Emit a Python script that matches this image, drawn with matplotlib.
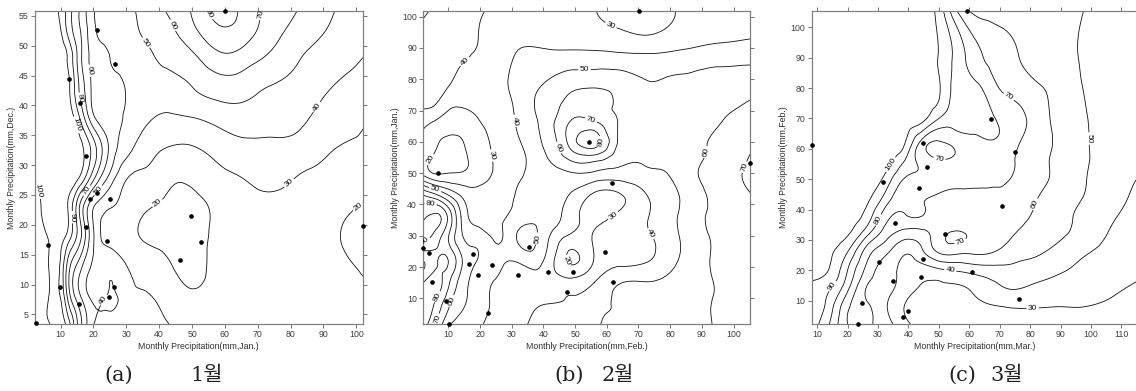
import numpy as np
import matplotlib
matplotlib.use("Agg")
import matplotlib.pyplot as plt
import matplotlib.tri as mtri

# ---------------- panel (a): Dec. vs Jan. ----------------
xa = [2.7, 6, 9, 12, 15, 18, 21, 25, 30, 36, 43, 50, 58, 66, 74, 82, 90, 96, 102]
ya = [3.4, 8, 13, 18, 23, 28, 33, 38, 43, 48, 52, 55.8]
za = [
    [93, 98, 105, 97, 71, 50, 38, 36, 35, 33, 30, 26, 24, 23, 22.5, 22, 21.5, 21, 20.5],
    [93, 98, 104, 80, 56, 42, 37, 41, 35, 31, 25, 21, 22, 23, 22.5, 22, 21.5, 21.5, 21],
    [94, 98.5, 104, 78, 58, 43.5, 37, 38, 30.5, 26, 21, 18, 22, 23.5, 23.5, 23, 21.5, 21, 19],
    [95, 100, 106, 97, 79, 56, 35, 27, 23, 19, 17, 16.5, 22.5, 25, 25.5, 24, 21.5, 19.7, 17],
    [97, 105, 110, 101, 77, 52, 37, 30.5, 26, 21, 18, 17.5, 22, 26, 27.5, 26, 24, 21.5, 19.5],
    [101, 110, 114, 110, 103, 87, 67, 47, 31, 27.6, 22.4, 22, 27, 30.5, 33, 29.8, 27.5, 26, 23.2],
    [106, 112, 114, 111, 106, 95, 79, 58, 44, 34.6, 29.8, 29.5, 34, 37.4, 38.1, 36.9, 31.8, 29.6, 28.5],
    [110, 114, 115, 107, 95, 74, 58, 53, 49, 42, 39, 40, 43.5, 45.5, 43.9, 42.6, 36.7, 33.8, 31],
    [114, 114, 110, 104, 84, 66, 54, 52, 49.5, 45, 44.6, 49.8, 55, 54, 49.5, 47, 41.7, 38.2, 35.6],
    [116, 113, 108, 100, 80, 62, 55, 50, 46, 47, 54, 58, 67, 65, 58, 51, 46, 43, 40],
    [117, 110, 106, 90, 75, 61, 50, 46, 46, 52, 58, 66, 77, 74, 64, 56, 50, 46, 43],
    [115, 108, 101, 87, 73, 59, 48, 45, 47, 54, 61, 71, 83, 77, 67, 60, 53, 48, 45],
]
sta_ax = [60, 21, 26.6, 12.4, 15.9, 17.7, 21.2, 25.1, 19, 17.7, 24.2, 49.8, 52.6, 46.4, 6.2, 9.7, 26.1, 24.6, 15.7, 2.6, 101.9]
sta_ay = [55.8, 52.7, 46.9, 44.4, 40.4, 31.5, 25.4, 24.4, 24.3, 19.7, 17.3, 21.4, 17.1, 14.1, 16.6, 9.6, 9.6, 8.0, 6.8, 3.5, 19.8]

# ---------------- panel (b): Jan. vs Feb. ----------------
xb = [2.1, 6, 10, 14, 19, 25, 32, 40, 48, 56, 64, 72, 80, 88, 96, 106]
yb = [1.8, 8, 15, 22, 29, 36, 43, 50, 55, 60, 66, 72, 78, 85, 92, 101.8]
zb = [
    [85, 70, 52, 46, 42, 37, 38, 43, 46, 49, 52, 54, 56, 58, 61, 62],
    [88, 78, 62, 52, 45, 38, 37, 40, 41, 47, 51, 54, 56, 58, 61, 61],
    [80, 85, 72, 56, 46, 39, 37, 38, 34, 40, 49.5, 50.5, 53, 57, 61, 62],
    [70, 78, 80, 62, 50, 43, 41, 40, 19, 30.5, 37, 39, 47, 56, 62, 64],
    [93, 85, 70, 52, 47, 39, 51, 45, 27, 31, 36, 38, 46, 56, 62, 63],
    [88, 92, 78, 50, 36, 37, 44, 46, 36, 26, 33, 39, 47, 57, 63, 66],
    [70, 62, 50, 39, 33, 34, 41, 44, 40, 28, 29, 39, 47, 56, 64, 70],
    [27, 19, 20, 20.5, 25, 31, 38, 45, 49, 48.5, 46, 48, 50.5, 59, 66, 72],
    [26, 18, 16.5, 18, 24, 31, 37, 48, 62, 66, 54, 51, 51, 57.5, 63.5, 71],
    [28, 21, 19, 19.5, 25, 32, 39, 51, 72, 85, 58, 52.5, 51.5, 57, 62.5, 68],
    [32.5, 28, 24, 24, 28.5, 34, 41, 53, 70, 72, 59, 53, 51.5, 55, 60, 62],
    [42, 40, 33, 31, 32.5, 36, 42, 54, 63, 66, 57.5, 53.5, 52.5, 55, 58, 61],
    [44, 42.5, 40.3, 36, 35, 37, 43, 50.5, 57, 58.5, 56, 51, 51.5, 53, 54, 55],
    [46.5, 45, 42.5, 40.3, 38, 36.5, 42, 45, 46.5, 47, 46.5, 45.5, 46, 47.5, 49, 49.5],
    [47, 45, 43, 41.5, 40.2, 37, 38.5, 38, 37, 36, 34.5, 33, 35, 37.5, 39.5, 41],
    [52, 48, 46, 44, 41.5, 38, 36, 34, 32, 30.3, 27, 25, 29, 33, 35, 36],
]
sta_bx = [70.1, 54.5, 6.6, 105.2, 61.6, 2.1, 3.8, 4.8, 9.4, 10.1, 16.5, 17.9, 19.4, 23.7, 22.6, 31.9, 35.3, 41.4, 47.3, 49.5, 59.5, 62.1]
sta_by = [101.8, 60.1, 50.2, 53.2, 46.8, 26.0, 24.6, 15.3, 9.2, 1.8, 21.0, 24.2, 17.3, 20.7, 5.4, 17.3, 26.5, 18.3, 11.9, 18.4, 24.9, 15.3]

# ---------------- panel (c): Feb. vs Mar. ----------------
xc = [8.2, 14, 20, 26, 32, 38, 44, 50, 56, 62, 68, 75, 82, 90, 98, 106, 115]
yc = [2.3, 8, 14, 20, 26, 32, 38, 44, 50, 56, 62, 70, 80, 90, 105.4]
zc = [
    [95, 80, 60, 52, 45, 34, 27, 26, 26.5, 27, 28, 29, 29, 28.5, 28, 27, 26],
    [97, 85, 62, 52, 42, 31, 24, 25, 27, 28.5, 29.5, 30.5, 30.3, 30, 30, 29, 27],
    [99, 91, 72, 50, 43, 36, 29, 28, 28.5, 32, 37, 40.5, 37.5, 35, 33.5, 31.5, 29],
    [102, 99.5, 80, 58, 45, 38, 35, 38, 41, 44, 46, 47, 45, 41, 37.5, 34.5, 31.5],
    [105, 101, 90, 66, 53, 42, 47, 61, 62.5, 62, 60, 55, 51.5, 46.5, 41, 37, 33],
    [108, 104, 101, 84, 66, 56, 56, 66, 71, 68, 65, 60, 56, 51.5, 46, 39.5, 34],
    [111, 108, 104, 97, 76, 69, 70.5, 64, 62, 64, 69, 64, 59, 53, 47.5, 42, 36],
    [114, 111, 107, 103, 88, 73, 70.5, 68, 65, 66, 68, 66, 60.5, 55, 49.5, 44, 38.5],
    [117, 114, 111, 107, 98, 80.5, 77, 75.5, 74, 73, 72, 69, 63.5, 57, 50.5, 44.5, 40],
    [120, 117, 114, 110, 106, 92, 77, 71, 72, 74, 73, 70, 64, 57, 51, 46, 41.5],
    [122, 120, 117, 113, 108, 103, 78, 69, 73, 77, 79, 72, 65, 57.5, 51, 46, 42],
    [124, 122, 120, 117, 113, 107, 104, 90, 86, 84, 80.5, 74, 66, 56, 50.5, 46, 42.5],
    [126, 124, 122, 119, 115, 110, 105, 101, 85, 82, 73, 66, 61.5, 56, 49.5, 46, 43.5],
    [128, 126, 124, 121, 117, 112, 106, 99.5, 86, 74, 66, 61, 56.5, 53, 49, 46.5, 44],
    [130, 128, 126, 123, 119, 114, 108, 96, 70, 57.5, 57, 56.5, 55.5, 53.5, 49.8, 47.5, 45.5],
]
sta_cx = [59.2, 67.1, 8.2, 44.8, 46.0, 31.5, 43.5, 75.0, 70.9, 35.7, 52.0, 30.2, 44.8, 60.9, 34.8, 44.0, 76.3, 24.8, 40.0, 38.3, 23.4]
sta_cy = [105.4, 69.8, 61.2, 61.8, 54.1, 49.2, 47.0, 59.0, 41.2, 35.5, 31.8, 22.6, 23.7, 19.3, 16.5, 17.9, 10.4, 9.3, 6.7, 4.7, 2.3]

levels = [10, 20, 30, 40, 50, 60, 70, 80, 90, 100]
x_labels = ["Monthly Precipitation(mm,Jan.)", "Monthly Precipitation(mm,Feb.)", "Monthly Precipitation(mm,Mar.)"]
y_labels = ["Monthly Precipitation(mm,Dec.)", "Monthly Precipitation(mm,Jan.)", "Monthly Precipitation(mm,Feb.)"]
cap_letters = ["(a)", "(b)", "(c)"]
cap_months = ["1월", "2월", "3월"]

W, H = 1136, 391
fig = plt.figure(figsize=(W / 100, H / 100), dpi=100)
plt.rcParams['font.family'] = ['Liberation Sans', 'DejaVu Sans']

panels = [
    dict(x=xa, y=ya, z=za, sx=sta_ax, sy=sta_ay, xlim=(2.2, 101.9), ylim=(3.4, 55.8),
         xt=range(10, 101, 10), yt=range(5, 56, 5), box=(35, 11, 362.5, 324), cap=(119, 207)),
    dict(x=xb, y=yb, z=zb, sx=sta_bx, sy=sta_by, xlim=(2.1, 105.2), ylim=(1.8, 101.8),
         xt=range(10, 101, 10), yt=range(10, 101, 10), box=(423.3, 11, 750, 324), cap=(569, 618)),
    dict(x=xc, y=yc, z=zc, sx=sta_cx, sy=sta_cy, xlim=(8.2, 115.3), ylim=(2.3, 105.4),
         xt=range(10, 111, 10), yt=range(10, 101, 10), box=(811.7, 11, 1137.5, 324), cap=(962, 1007)),
]

for i, p in enumerate(panels):
    l, t, r, b = p['box']
    ax = fig.add_axes([l / W, 1 - b / H, (r - l) / W, (b - t) / H])
    X, Y = np.meshgrid(p['x'], p['y'])
    Z = np.array(p['z'], dtype=float)
    tri = mtri.Triangulation(X.ravel(), Y.ravel())
    refiner = mtri.UniformTriRefiner(tri)
    tri_r, z_r = refiner.refine_field(Z.ravel(), subdiv=3)
    cs = ax.tricontour(tri_r, z_r, levels=levels, colors='#111111', linewidths=0.6)
    ax.clabel(cs, fmt='%d', fontsize=6, inline=True, inline_spacing=1.5)
    ax.plot(p['sx'], p['sy'], 'o', color='k', ms=2.3, clip_on=False, zorder=5)
    ax.set_xlim(*p['xlim'])
    ax.set_ylim(*p['ylim'])
    ax.set_xticks(list(p['xt']))
    ax.set_yticks(list(p['yt']))
    ax.tick_params(direction='out', length=3, width=0.6, colors='#606060',
                   labelsize=6.3, top=True, right=True, labelcolor='#404040', pad=1.5)
    for s in ax.spines.values():
        s.set_color('#808080')
        s.set_linewidth(0.9)
    ax.set_xlabel(x_labels[i], fontsize=6.3, color='#303030', labelpad=2)
    ax.set_ylabel(y_labels[i], fontsize=6.3, color='#303030', labelpad=2)
    c1, c2 = p['cap']
    fig.text(c1 / W, 1 - 375 / H, cap_letters[i], ha='center', va='center',
             fontsize=15, family=['DejaVu Serif'], color='#222222')
    fig.text(c2 / W, 1 - 375 / H, cap_months[i], ha='center', va='center',
             fontsize=15, family=['DejaVu Serif', 'Noto Sans CJK KR'], color='#222222')

fig.savefig("out.png", dpi=100)
